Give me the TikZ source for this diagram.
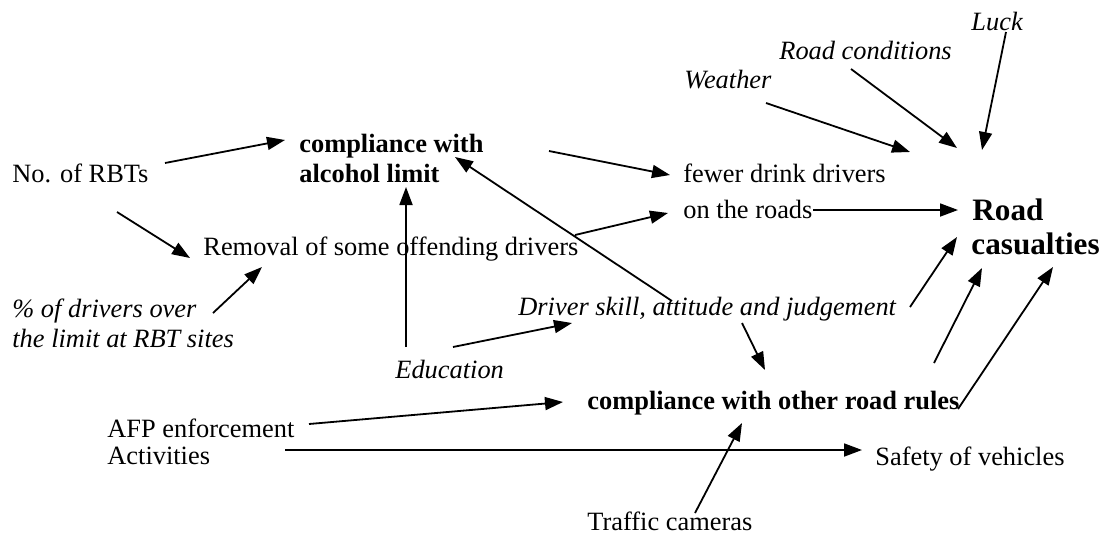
\documentclass[tikz,border=0pt]{standalone}
\usepackage{fontspec}
\setmainfont{Liberation Serif}
\usetikzlibrary{arrows.meta}
\begin{document}
\begin{tikzpicture}[x=0.5pt,y=-0.5pt,
  lbl/.style={anchor=base west,inner sep=0pt,font=\fontsize{13.2}{15}\selectfont},
  ilbl/.style={lbl,font=\fontsize{13.2}{15}\selectfont\itshape},
  blbl/.style={lbl,font=\fontsize{13.2}{15}\selectfont\bfseries},
  biglbl/.style={lbl,font=\fontsize{15.6}{18}\selectfont\bfseries},
  arr/.style={line width=0.9pt,-{Triangle[length=9pt,width=6.5pt]}},
  plain/.style={line width=0.7pt}]
\fill[white] (0,0) rectangle (1107,536);
\useasboundingbox (0,0) rectangle (1107,536);

% factors
\node[lbl]  (norbt)   at (12,182)  {No. of RBTs};
\node[ilbl] (pctA)    at (12,317)  {\% of drivers over};
\node[ilbl] (pctB)    at (12,347)  {the limit at RBT sites};
\node[ilbl] (educ)    at (395,378) {Education};
\node[lbl]  (afpA)    at (107,437) {AFP enforcement};
\node[lbl]  (afpB)    at (107,464) {Activities};
\node[lbl]  (cams)    at (587,530) {Traffic cameras};
\node[ilbl] (weather) at (684,88)  {Weather};
\node[ilbl] (roadcond) at (779,59) {Road conditions};
\node[ilbl] (luck)    at (971,30)  {Luck};

% intermediate outcomes
\node[blbl] (alcA)    at (299,152) {compliance with};
\node[blbl] (alcB)    at (299,182) {alcohol limit};
\node[lbl]  (removal) at (203,255) {Removal of some offending drivers};
\node[ilbl] (driver)  at (518,315) {Driver skill, attitude and judgement};
\node[lbl]  (fewerA)  at (683,182) {fewer drink drivers};
\node[lbl]  (fewerB)  at (683,218) {on the roads};
\node[blbl] (rules)   at (587,409) {compliance with other road rules};
\node[lbl]  (safety)  at (875,465) {Safety of vehicles};

% final outcome
\node[biglbl] (casA)  at (972,220) {Road};
\node[biglbl] (casB)  at (971,254) {casualties};

% connector end points
\coordinate (norbt-o1) at (165,163);  \coordinate (alc-i1) at (285,140);
\coordinate (norbt-o2) at (117,212);  \coordinate (rem-i1) at (190,258);
\coordinate (pct-o)    at (213,313);  \coordinate (rem-i2) at (262,267);
\coordinate (educ-o1)  at (406,347);  \coordinate (alc-i2) at (406,187);
\coordinate (educ-o2)  at (453,347);  \coordinate (drv-i)  at (572,323);
\coordinate (drv-o1)   at (672,301);  \coordinate (alc-i3) at (455,157);
\coordinate (alc-o)    at (549,151);  \coordinate (few-i1) at (670,175);
\coordinate (rem-o)    at (575,235);  \coordinate (few-i2) at (668,213);
\coordinate (few-o)    at (813,210);  \coordinate (cas-i1) at (958,210);
\coordinate (wea-o)    at (766,103);  \coordinate (cas-i2) at (910,152);
\coordinate (rc-o)     at (851,69);   \coordinate (cas-i3) at (957,148);
\coordinate (luck-o)   at (1006,32);  \coordinate (cas-i4) at (982,150);
\coordinate (drv-o2)   at (910,307);  \coordinate (cas-i5) at (957,237);
\coordinate (rul-o1)   at (934,363);  \coordinate (cas-i6) at (982,268);
\coordinate (rul-o2)   at (958,409);  \coordinate (cas-i7) at (1053,267);
\coordinate (drv-o3)   at (742,323);  \coordinate (rul-i1) at (765,370);
\coordinate (afp-o1)   at (309,424);  \coordinate (rul-i2) at (563,402);
\coordinate (afp-o2)   at (285,450);  \coordinate (saf-i)  at (862,450);
\coordinate (cam-o)    at (695,513);  \coordinate (rul-i3) at (742,423);

% causal links
\draw[arr] (norbt-o1) -- (alc-i1);
\draw[arr] (norbt-o2) -- (rem-i1);
\draw[arr] (pct-o)    -- (rem-i2);
\draw[arr] (educ-o1)  -- (alc-i2);
\draw[arr] (educ-o2)  -- (drv-i);
\draw[arr] (drv-o1)   -- (alc-i3);
\draw[arr] (alc-o)    -- (few-i1);
\draw[arr] (rem-o)    -- (few-i2);
\draw[arr] (few-o)    -- (cas-i1);
\draw[arr] (wea-o)    -- (cas-i2);
\draw[arr] (rc-o)     -- (cas-i3);
\draw[arr] (luck-o)   -- (cas-i4);
\draw[arr] (drv-o2)   -- (cas-i5);
\draw[arr] (rul-o1)   -- (cas-i6);
\draw[arr] (rul-o2)   -- (cas-i7);
\draw[arr] (drv-o3)   -- (rul-i1);
\draw[arr] (afp-o1)   -- (rul-i2);
\draw[arr] (afp-o2)   -- (saf-i);
\draw[arr] (cam-o)    -- (rul-i3);
\end{tikzpicture}
\end{document}
